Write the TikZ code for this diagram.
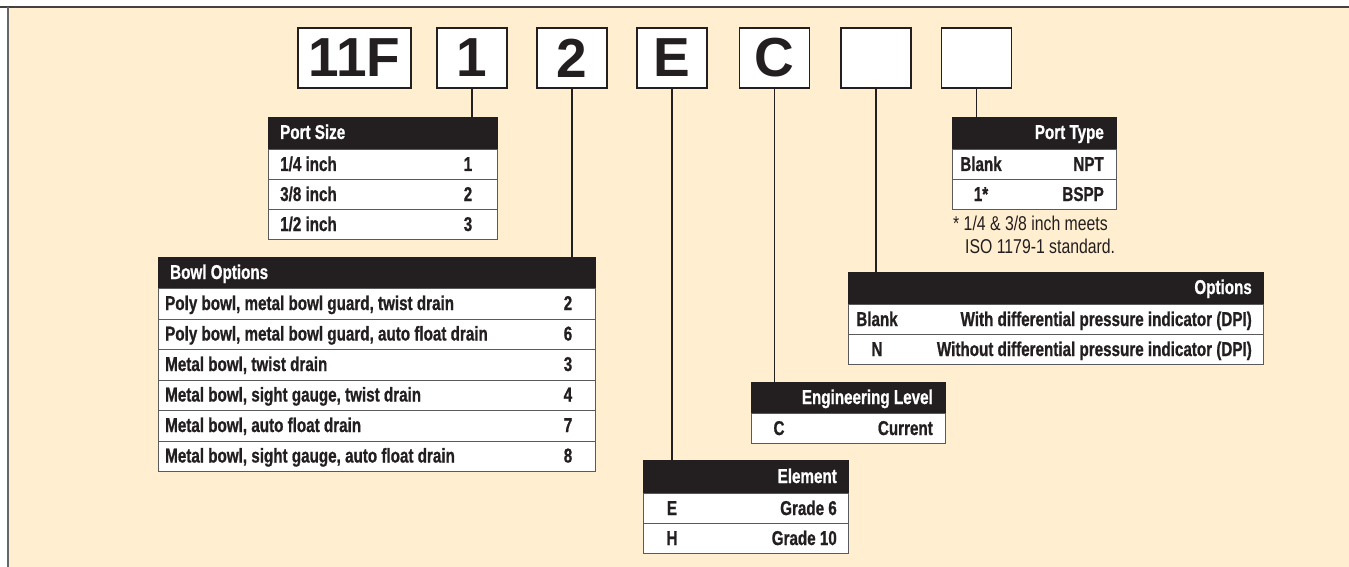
\documentclass[tikz,border=0pt]{standalone}
\usepackage{fontspec}
\newfontfamily\tabf[FakeStretch=0.76, BoldFeatures={FakeBold=0.8}]{Liberation Sans}
\newfontfamily\notef[FakeStretch=0.79]{Liberation Sans}
\newfontfamily\codef{Liberation Sans}
\definecolor{ink}{RGB}{35,31,32}
\definecolor{cream}{RGB}{255,238,207}
\definecolor{tabline}{RGB}{90,90,92}
\begin{document}
\begin{tikzpicture}[x=1pt,y=-1pt,
  codebox/.style={draw=ink, line width=1.8pt, fill=white, minimum width=70pt, minimum height=60pt, inner sep=0pt, font=\codef\bfseries\fontsize{55}{57}\selectfont, text=ink},
  hdr/.style={draw=ink, fill=ink, line width=0.8pt, inner sep=0pt, anchor=north west},
  rowc/.style={draw=tabline, fill=white, line width=0.9pt, inner sep=0pt, anchor=north west},
  txt/.style={inner sep=0pt, font=\tabf\bfseries\fontsize{20}{22}\selectfont, text=ink},
  htxt/.style={txt, text=white},
  notetxt/.style={inner sep=0pt, font=\notef\fontsize{20}{22}\selectfont, text=ink, anchor=base west},
  conn/.style={draw=ink, line width=1.8pt}]
\useasboundingbox (0,0) rectangle (1349,567);
% background
\fill[cream] (8,7) rectangle (1349,567);
\draw[line width=1.5pt, ink!85] (0,7) -- (1349,7);
\draw[line width=1.5pt, gray!80!black] (8,7) -- (8,567);

% code boxes
\node[codebox, minimum width=113pt] (b0) at (354.5,58) {11F};
\node[codebox] (b1) at (472,58) {1};
\node[codebox] (b2) at (572,58) {2};
\node[codebox] (b3) at (672,58) {E};
\node[codebox] (b4) at (774.5,58) {C};
\node[codebox] (b5) at (876,58) {};
\node[codebox] (b6) at (976.5,58) {};

% Port Size
\node[hdr, minimum width=229pt, minimum height=32pt] (ps) at (268,117) {};
\node[rowc, minimum width=229pt, minimum height=30pt] (ps1) at (268,149) {};
\node[rowc, minimum width=229pt, minimum height=30pt] (ps2) at (268,179) {};
\node[rowc, minimum width=229pt, minimum height=30pt] (ps3) at (268,209) {};
\node[htxt, anchor=base west] (pst) at (280,139) {Port Size};
\node[txt, anchor=base west] (ps1a) at (280,171) {1/4 inch};
\node[txt, anchor=base] (ps1b) at (468,171) {1};
\node[txt, anchor=base west] (ps2a) at (280,201) {3/8 inch};
\node[txt, anchor=base] (ps2b) at (468,201) {2};
\node[txt, anchor=base west] (ps3a) at (280,231) {1/2 inch};
\node[txt, anchor=base] (ps3b) at (468,231) {3};

% Bowl Options
\node[hdr, minimum width=437pt, minimum height=31pt] (bo) at (158,257) {};
\node[rowc, minimum width=437pt, minimum height=30.5pt] (bo1) at (158,288) {};
\node[rowc, minimum width=437pt, minimum height=30.5pt] (bo2) at (158,318.5) {};
\node[rowc, minimum width=437pt, minimum height=30.5pt] (bo3) at (158,349) {};
\node[rowc, minimum width=437pt, minimum height=30.5pt] (bo4) at (158,379.5) {};
\node[rowc, minimum width=437pt, minimum height=30.5pt] (bo5) at (158,410) {};
\node[rowc, minimum width=437pt, minimum height=30.5pt] (bo6) at (158,440.5) {};
\node[htxt, anchor=base west] (bot) at (170,279) {Bowl Options};
\node[txt, anchor=base west] (bo1a) at (165,310) {Poly bowl, metal bowl guard, twist drain};
\node[txt, anchor=base] (bo1b) at (568,310) {2};
\node[txt, anchor=base west] (bo2a) at (165,340.5) {Poly bowl, metal bowl guard, auto float drain};
\node[txt, anchor=base] (bo2b) at (568,340.5) {6};
\node[txt, anchor=base west] (bo3a) at (165,371) {Metal bowl, twist drain};
\node[txt, anchor=base] (bo3b) at (568,371) {3};
\node[txt, anchor=base west] (bo4a) at (165,401.5) {Metal bowl, sight gauge, twist drain};
\node[txt, anchor=base] (bo4b) at (568,401.5) {4};
\node[txt, anchor=base west] (bo5a) at (165,432) {Metal bowl, auto float drain};
\node[txt, anchor=base] (bo5b) at (568,432) {7};
\node[txt, anchor=base west] (bo6a) at (165,462.5) {Metal bowl, sight gauge, auto float drain};
\node[txt, anchor=base] (bo6b) at (568,462.5) {8};

% Element
\node[hdr, minimum width=205pt, minimum height=33pt] (el) at (643,460) {};
\node[rowc, minimum width=205pt, minimum height=30pt] (el1) at (643,493) {};
\node[rowc, minimum width=205pt, minimum height=30pt] (el2) at (643,523) {};
\node[htxt, anchor=base east] (elt) at (837,483) {Element};
\node[txt, anchor=base] (el1a) at (672,515) {E};
\node[txt, anchor=base east] (el1b) at (837,515) {Grade 6};
\node[txt, anchor=base] (el2a) at (672,545) {H};
\node[txt, anchor=base east] (el2b) at (837,545) {Grade 10};

% Engineering Level
\node[hdr, minimum width=194pt, minimum height=31pt] (en) at (751,382) {};
\node[rowc, minimum width=194pt, minimum height=30pt] (en1) at (751,413) {};
\node[htxt, anchor=base east] (ent) at (933,404) {Engineering Level};
\node[txt, anchor=base] (en1a) at (779,435) {C};
\node[txt, anchor=base east] (en1b) at (933,435) {Current};

% Options
\node[hdr, minimum width=415pt, minimum height=32pt] (op) at (848,272) {};
\node[rowc, minimum width=415pt, minimum height=30pt] (op1) at (848,304) {};
\node[rowc, minimum width=415pt, minimum height=30pt] (op2) at (848,334) {};
\node[htxt, anchor=base east] (opt) at (1252,294) {Options};
\node[txt, anchor=base] (op1a) at (877,326) {Blank};
\node[txt, anchor=base east] (op1b) at (1252,326) {With differential pressure indicator (DPI)};
\node[txt, anchor=base] (op2a) at (877,356) {N};
\node[txt, anchor=base east] (op2b) at (1252,356) {Without differential pressure indicator (DPI)};

% Port Type
\node[hdr, minimum width=164pt, minimum height=32pt] (pt) at (952,117) {};
\node[rowc, minimum width=164pt, minimum height=30pt] (pt1) at (952,149) {};
\node[rowc, minimum width=164pt, minimum height=30pt] (pt2) at (952,179) {};
\node[htxt, anchor=base east] (ptt) at (1104,139) {Port Type};
\node[txt, anchor=base] (pt1a) at (981,171) {Blank};
\node[txt, anchor=base east] (pt1b) at (1104,171) {NPT};
\node[txt, anchor=base] (pt2a) at (981,201) {1*};
\node[txt, anchor=base east] (pt2b) at (1104,201) {BSPP};
\node[notetxt] (n1) at (953,230) {* 1/4 \& 3/8 inch meets};
\node[notetxt] (n2) at (965,253) {ISO 1179-1 standard.};

% connectors
\draw[conn] (b1.south) -- (b1.south |- ps.north);
\draw[conn] (b2.south) -- (b2.south |- bo.north);
\draw[conn] (b3.south) -- (b3.south |- el.north);
\draw[conn] (b4.south) -- (b4.south |- en.north);
\draw[conn] (b5.south) -- (b5.south |- op.north);
\draw[conn] (b6.south) -- (b6.south |- pt.north);
\end{tikzpicture}
\end{document}
